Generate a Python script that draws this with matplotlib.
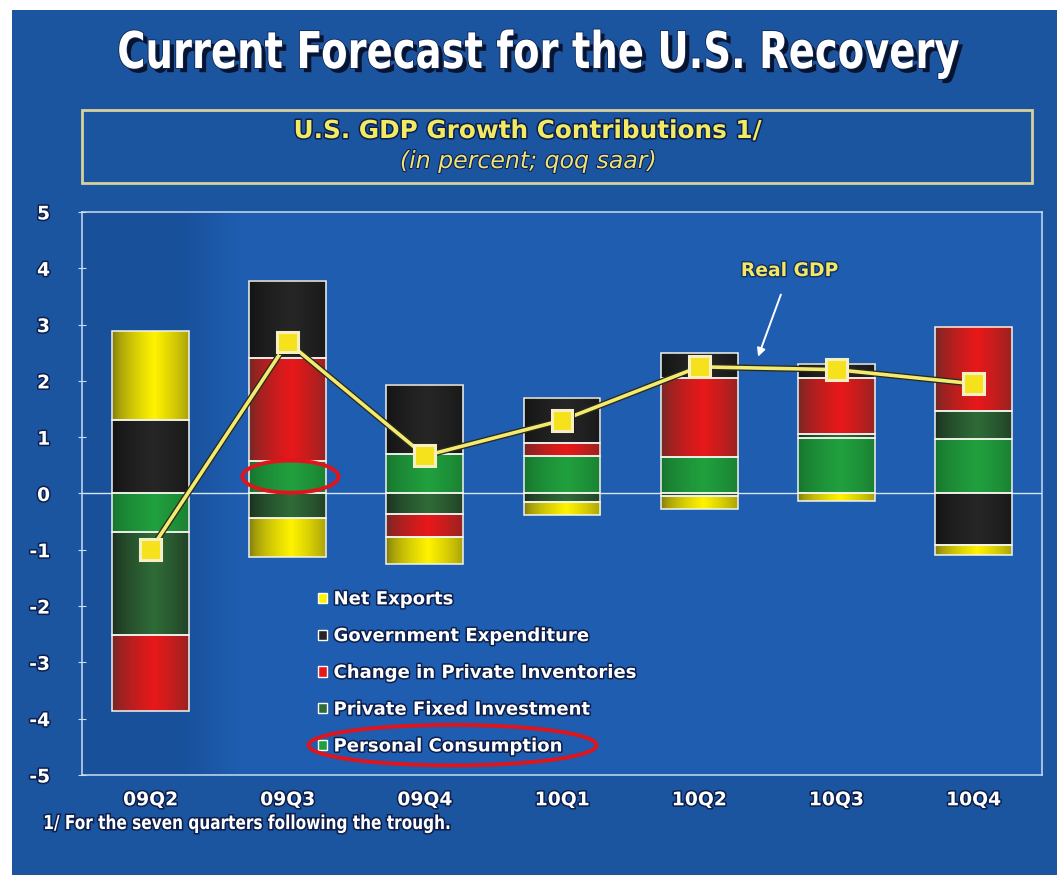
import matplotlib
matplotlib.use('Agg')
import matplotlib.pyplot as plt
import matplotlib.patheffects as pe
from matplotlib.colors import LinearSegmentedColormap
from matplotlib.patches import Rectangle, Ellipse, Patch, PathPatch
from matplotlib.textpath import TextPath
from matplotlib.font_manager import FontProperties
from matplotlib.transforms import Affine2D
import numpy as np

#%% data (percent, qoq saar)
quarters = ['09Q2', '09Q3', '09Q4', '10Q1', '10Q2', '10Q3', '10Q4']
personal_consumption = [-0.69, 0.57, 0.70, 0.67, 0.65, 0.98, 0.97]
private_fixed_inv = [-1.83, -0.44, -0.37, -0.15, -0.05, 0.07, 0.49]
private_inventories = [-1.35, 1.84, -0.41, 0.22, 1.41, 1.00, 1.50]
gov_expenditure = [1.30, 1.37, 1.23, 0.81, 0.44, 0.25, -0.91]
net_exports = [1.58, -0.69, -0.48, -0.24, -0.22, -0.13, -0.18]
real_gdp = [-1.0, 2.69, 0.67, 1.30, 2.25, 2.20, 1.95]

series_names = ['Personal Consumption', 'Private Fixed Investment',
                'Change in Private Inventories', 'Government Expenditure',
                'Net Exports']
series_vals = [personal_consumption, private_fixed_inv, private_inventories,
               gov_expenditure, net_exports]
# (edge colour, centre colour) of the shaded bars
series_cols = [('#17702c', '#21a03e'),
               ('#1a2a1e', '#2f6b37'),
               ('#6a2a26', '#e8181a'),
               ('#121212', '#262626'),
               ('#7a7610', '#fff300')]

BG = '#1b549f'
W, H = 1057, 875
DARK = '#0c1f4d'

fig = plt.figure(figsize=(W / 100, H / 100), dpi=100, facecolor='white')
# slide background
fig.patches.append(Rectangle((12 / W, 0), 1, 1 - 10 / H, transform=fig.transFigure,
                             facecolor=BG, edgecolor='none', zorder=-10))


def squeezed_text(s, xc, ybase, size, sx, color, ha='center', effects=None):
    # text drawn as a path so it can be narrowed (no condensed font installed)
    tp = TextPath((0, 0), s, size=size,
                  prop=FontProperties(family='DejaVu Sans', weight='bold'))
    bb = tp.get_extents()
    k = 100 / 72
    if ha == 'center':
        x0 = xc - (bb.x0 + bb.width / 2) * sx * k
    else:
        x0 = xc - bb.x0 * sx * k
    tr = Affine2D().scale(sx * k, k).translate(x0, H - ybase)
    patch = PathPatch(tp, transform=tr, facecolor=color, edgecolor='none', zorder=5)
    if effects:
        patch.set_path_effects(effects)
    fig.add_artist(patch)


ax = fig.add_axes([82 / W, 1 - 775 / H, 960 / W, 563 / H])
ax.set_facecolor('#1e5daf')

x = np.arange(len(quarters))
bw = 0.56

# slightly darker band on the left of the plot area
bgrad = np.clip((np.linspace(0, 1, 200) - 0.10) / 0.06, 0, 1)
bcm = LinearSegmentedColormap.from_list('bg', ['#18509a', '#1e5daf'])
ax.imshow(bgrad[None, :], cmap=bcm, extent=(-0.5, 6.5, -5, 5), aspect='auto',
          interpolation='bilinear', zorder=0)

#%% stacked bars, positive and negative stacks apart
pos_base = np.zeros(len(quarters))
neg_base = np.zeros(len(quarters))
prof = np.clip(1 - np.abs(np.linspace(0, 1, 64) - 0.55) / 0.55, 0, 1) ** 0.6
for vals, (ce, cc) in zip(series_vals, series_cols):
    v = np.array(vals)
    bottom = np.where(v >= 0, pos_base, neg_base)
    bars = ax.bar(x, v, bw, bottom=bottom, color=cc, edgecolor='none', zorder=2)
    cm = LinearSegmentedColormap.from_list('g', [ce, cc])
    for p in bars.patches:
        x0, y0 = p.get_x(), p.get_y()
        ax.imshow(prof[None, :], cmap=cm, vmin=0, vmax=1, aspect='auto',
                  extent=(x0, x0 + p.get_width(), y0, y0 + p.get_height()),
                  interpolation='bilinear', zorder=2.2)
    ax.bar(x, v, bw, bottom=bottom, facecolor='none', edgecolor='#f4f4ee',
           linewidth=1.1, zorder=3)
    pos_base = pos_base + np.where(v >= 0, v, 0)
    neg_base = neg_base + np.where(v < 0, v, 0)

ax.axhline(0, color='#d8e6f6', lw=1.0, zorder=1.5)

#%% real GDP line
ax.plot(x, real_gdp, color='#f3ea72', lw=2.6, zorder=5,
        path_effects=[pe.Stroke(linewidth=4.5, foreground='#2a2a1a'), pe.Normal()])
ax.plot(x, real_gdp, ls='none', marker='s', ms=15, mfc='#f5e21c', mec='#f6efc4',
        mew=2.2, zorder=6,
        path_effects=[pe.SimplePatchShadow(offset=(1.5, -1.5), shadow_rgbFace='#101010',
                                           alpha=0.8), pe.Normal()])

ax.annotate('Real GDP', xy=(4.43, 2.43), xytext=(4.66, 3.96), ha='center', va='center',
            color='#f2e868', fontsize=13.5, fontweight='bold', zorder=7,
            path_effects=[pe.withStroke(linewidth=2, foreground='#14305e')],
            arrowprops=dict(arrowstyle='-|>', color='white', lw=1.4,
                            mutation_scale=12, shrinkA=9, shrinkB=0))

#%% axes styling
ax.set_xlim(-0.5, 6.5)
ax.set_ylim(-5, 5)
ax.set_xticks(x)
ax.set_xticklabels(quarters)
ax.set_yticks(np.arange(-5, 6))
ax.set_yticklabels([str(v) for v in range(-5, 6)])
for s in ax.spines.values():
    s.set_color('#c9dcf2')
    s.set_linewidth(1.1)
ax.tick_params(axis='x', length=0, pad=11, labelsize=13.5, labelcolor='white')
ax.tick_params(axis='y', length=6, direction='inout', color='#c9dcf2', pad=20,
               labelsize=13.5, labelcolor='white')
txt_fx = [pe.withStroke(linewidth=2.2, foreground=DARK)]
for t in ax.get_xticklabels() + ax.get_yticklabels():
    t.set_fontweight('bold')
    t.set_path_effects(txt_fx)

#%% legend
leg_order = [4, 3, 2, 1, 0]
handles = [Patch(facecolor=series_cols[i][1], edgecolor='white', linewidth=1.0)
           for i in leg_order]
leg = ax.legend(handles, [series_names[i] for i in leg_order], loc='upper left',
                bbox_to_anchor=(0.246, 0.328), frameon=False, borderpad=0,
                borderaxespad=0, handlelength=0.5, handleheight=0.5,
                handletextpad=0.35, labelspacing=1.04,
                prop={'size': 13, 'weight': 'bold'})
for t in leg.get_texts():
    t.set_color('white')
    t.set_path_effects(txt_fx)
leg.set_zorder(8)

# red highlight ellipses
ax.add_patch(Ellipse((1.02, 0.30), 0.70, 0.57, facecolor='none', edgecolor='#e0141c',
                     lw=2.8, zorder=9))
ax.add_patch(Ellipse((0.386, 0.053), 0.30, 0.072, transform=ax.transAxes,
                     facecolor='none', edgecolor='#e0141c', lw=2.8, zorder=9,
                     clip_on=False))

#%% titles
squeezed_text('Current Forecast for the U.S. Recovery', 539, 68, 36.5, 0.76, 'white',
              effects=[pe.SimplePatchShadow(offset=(3, -3), shadow_rgbFace='#08132e',
                                            alpha=1.0),
                       pe.Stroke(linewidth=1.2, foreground='#10285a'), pe.Normal()])

fig.patches.append(Rectangle((82 / W, 1 - 183 / H), 950 / W, 73 / H,
                             transform=fig.transFigure, facecolor='none',
                             edgecolor='#d6d29a', lw=2, zorder=1))
fig.text(0.5, 1 - 131 / H, 'U.S. GDP Growth Contributions 1/', ha='center', va='center',
         color='#f1ea62', fontsize=17.8, fontweight='bold',
         path_effects=[pe.withStroke(linewidth=2.2, foreground=DARK)])
fig.text(0.5, 1 - 161 / H, '(in percent; qoq saar)', ha='center', va='center',
         color='#ece47a', fontsize=17, style='italic',
         path_effects=[pe.withStroke(linewidth=1.5, foreground=DARK)])

squeezed_text('1/ For the seven quarters following the trough.', 45, 829, 13.8, 0.8,
              'white', ha='left',
              effects=[pe.Stroke(linewidth=2.2, foreground=DARK), pe.Normal()])

fig.savefig('out.png', dpi=100, facecolor=fig.get_facecolor())
